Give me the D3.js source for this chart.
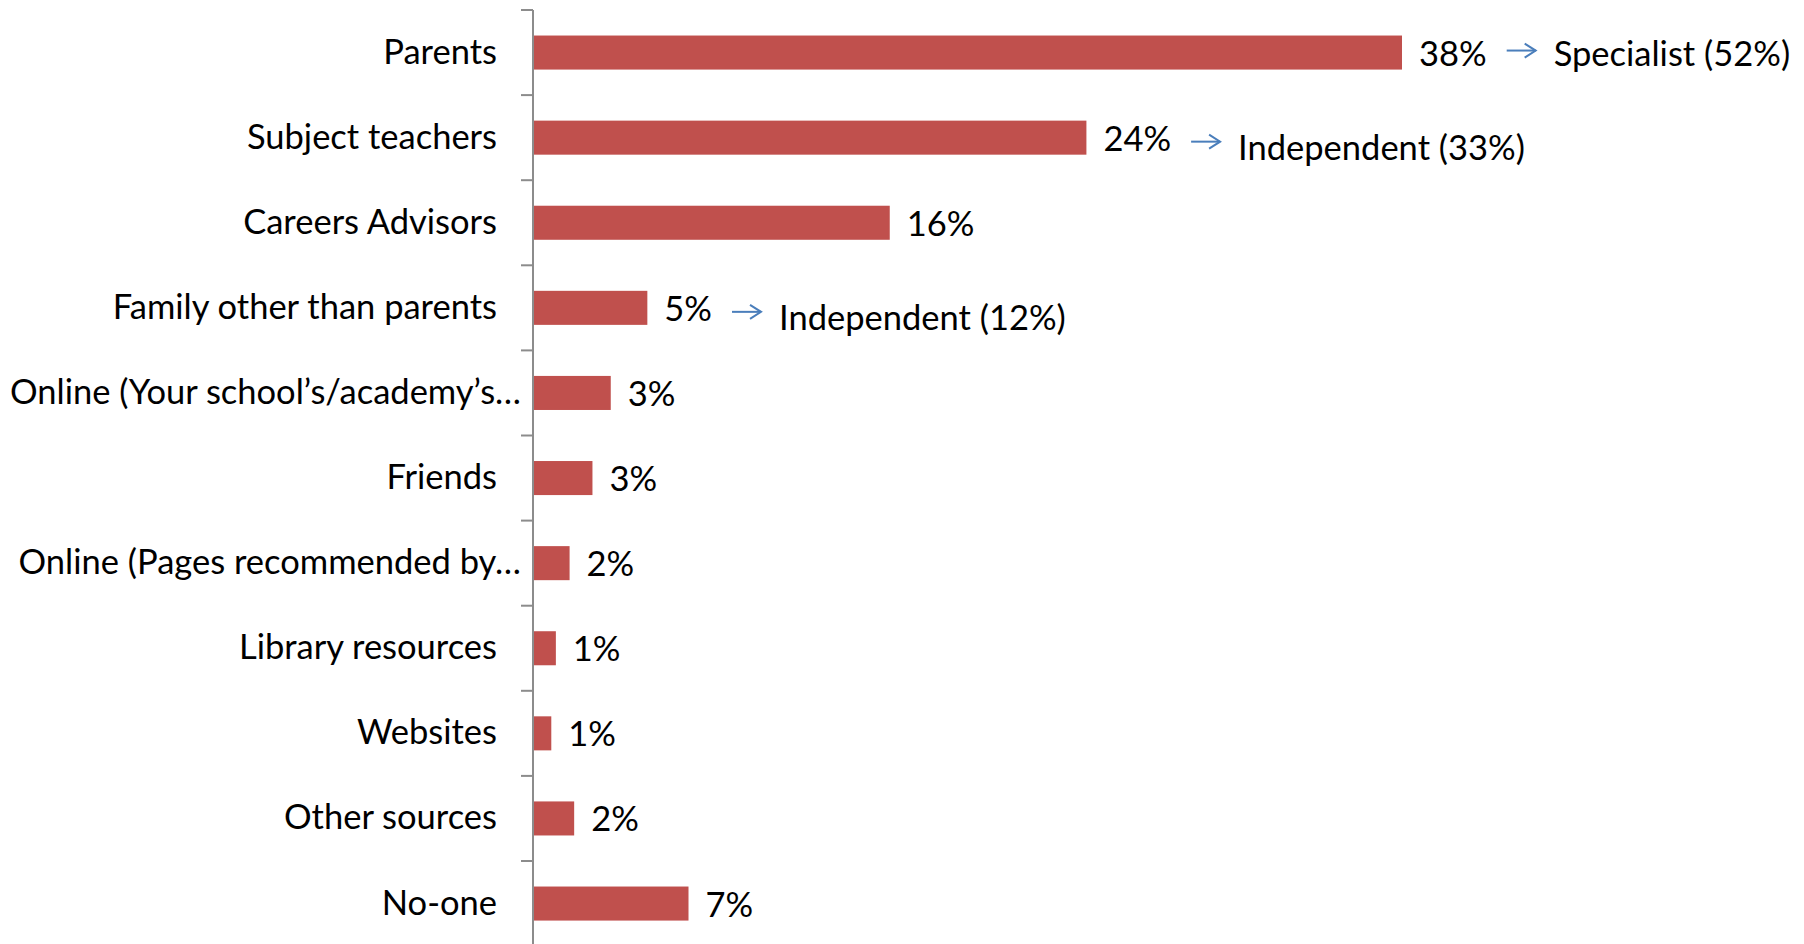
<!DOCTYPE html>
<html>
<head>
<meta charset="utf-8">
<script src="https://cdn.jsdelivr.net/npm/d3@7"></script>
<style>
  html, body { margin: 0; padding: 0; background: #ffffff; }
  svg { display: block; }
  text { font-family: Lato, "Open Sans", sans-serif; fill: #000; }
</style>
</head>
<body>
<svg id="chart" width="1804" height="944"></svg>
<script>
// ---- data ----
const categories = [
  "Parents",
  "Subject teachers",
  "Careers Advisors",
  "Family other than parents",
  "Online (Your school’s/academy’s…",
  "Friends",
  "Online (Pages recommended by…",
  "Library resources",
  "Websites",
  "Other sources",
  "No-one"
];
const values = [38.0, 24.2, 15.6, 5.0, 3.4, 2.6, 1.6, 1.0, 0.8, 1.8, 6.8];
const valueLabels = ["38%", "24%", "16%", "5%", "3%", "3%", "2%", "1%", "1%", "2%", "7%"];
const annotationCategories = ["Parents", "Subject teachers", "Family other than parents"];
const annotationTexts = ["Specialist (52%)", "Independent (33%)", "Independent (12%)"];

// ---- layout ----
const svg = d3.select("#chart");
const axisX = 533;
const plotTop = 10;
const step = 85.1;
const fontSize = 34.5;

const y = d3.scaleBand()
  .domain(categories)
  .range([plotTop, plotTop + step * categories.length])
  .paddingInner(0.6)
  .paddingOuter(0.3);

const x = d3.scaleLinear()
  .domain([0, 38])
  .range([axisX, 1402]);

const rows = categories.map((c, i) => ({ cat: c, value: values[i], label: valueLabels[i] }));

// bars
svg.append("g").selectAll("rect")
  .data(rows)
  .join("rect")
  .attr("x", x(0))
  .attr("y", d => y(d.cat))
  .attr("width", d => x(d.value) - x(0))
  .attr("height", y.bandwidth())
  .attr("fill", "#C0504D");

// axis line and ticks (between categories)
const axisG = svg.append("g");
const [r0, r1] = y.range();
axisG.append("line")
  .attr("x1", axisX).attr("x2", axisX)
  .attr("y1", r0).attr("y2", r1)
  .attr("stroke", "#8c8c8c").attr("stroke-width", 2);
const boundaries = d3.range(categories.length + 1).map(i => r0 + i * y.step());
axisG.selectAll("line.tick")
  .data(boundaries)
  .join("line")
  .attr("class", "tick")
  .attr("x1", axisX - 12).attr("x2", axisX)
  .attr("y1", d => d).attr("y2", d => d)
  .attr("stroke", "#8c8c8c").attr("stroke-width", 2);

// category labels
svg.append("g").selectAll("text")
  .data(rows)
  .join("text")
  .attr("x", d => d.cat.endsWith("…") ? axisX - 12 : axisX - 36)
  .attr("y", d => y(d.cat) + y.bandwidth() / 2 + 11)
  .attr("text-anchor", "end")
  .attr("font-size", fontSize)
  .text(d => d.cat);

// value labels
const valG = svg.append("g");
const valTexts = valG.selectAll("text")
  .data(rows)
  .join("text")
  .attr("x", d => x(d.value) + 17)
  .attr("y", d => y(d.cat) + y.bandwidth() / 2 + 13)
  .attr("font-size", fontSize)
  .text(d => d.label);

// annotations with arrows
const annG = svg.append("g");
annotationCategories.forEach((cat, i) => {
  const idx = categories.indexOf(cat);
  const node = valTexts.nodes()[idx];
  const labelEnd = x(values[idx]) + 17 + node.getComputedTextLength();
  const cy = y(cat) + y.bandwidth() / 2 - 2 + (i === 0 ? 0 : 6);
  const ax0 = labelEnd + 20;
  const ax1 = ax0 + 29;
  annG.append("line")
    .attr("x1", ax0).attr("x2", ax1)
    .attr("y1", cy).attr("y2", cy)
    .attr("stroke", "#4A7EBB").attr("stroke-width", 2);
  annG.append("path")
    .attr("d", `M${ax1 - 11},${cy - 7} L${ax1},${cy} L${ax1 - 11},${cy + 7}`)
    .attr("fill", "none")
    .attr("stroke", "#4A7EBB").attr("stroke-width", 2);
  annG.append("text")
    .attr("x", ax1 + 18)
    .attr("y", y(cat) + y.bandwidth() / 2 + (i === 0 ? 13 : 22))
    .attr("font-size", fontSize)
    .text(annotationTexts[i]);
});
</script>
</body>
</html>
